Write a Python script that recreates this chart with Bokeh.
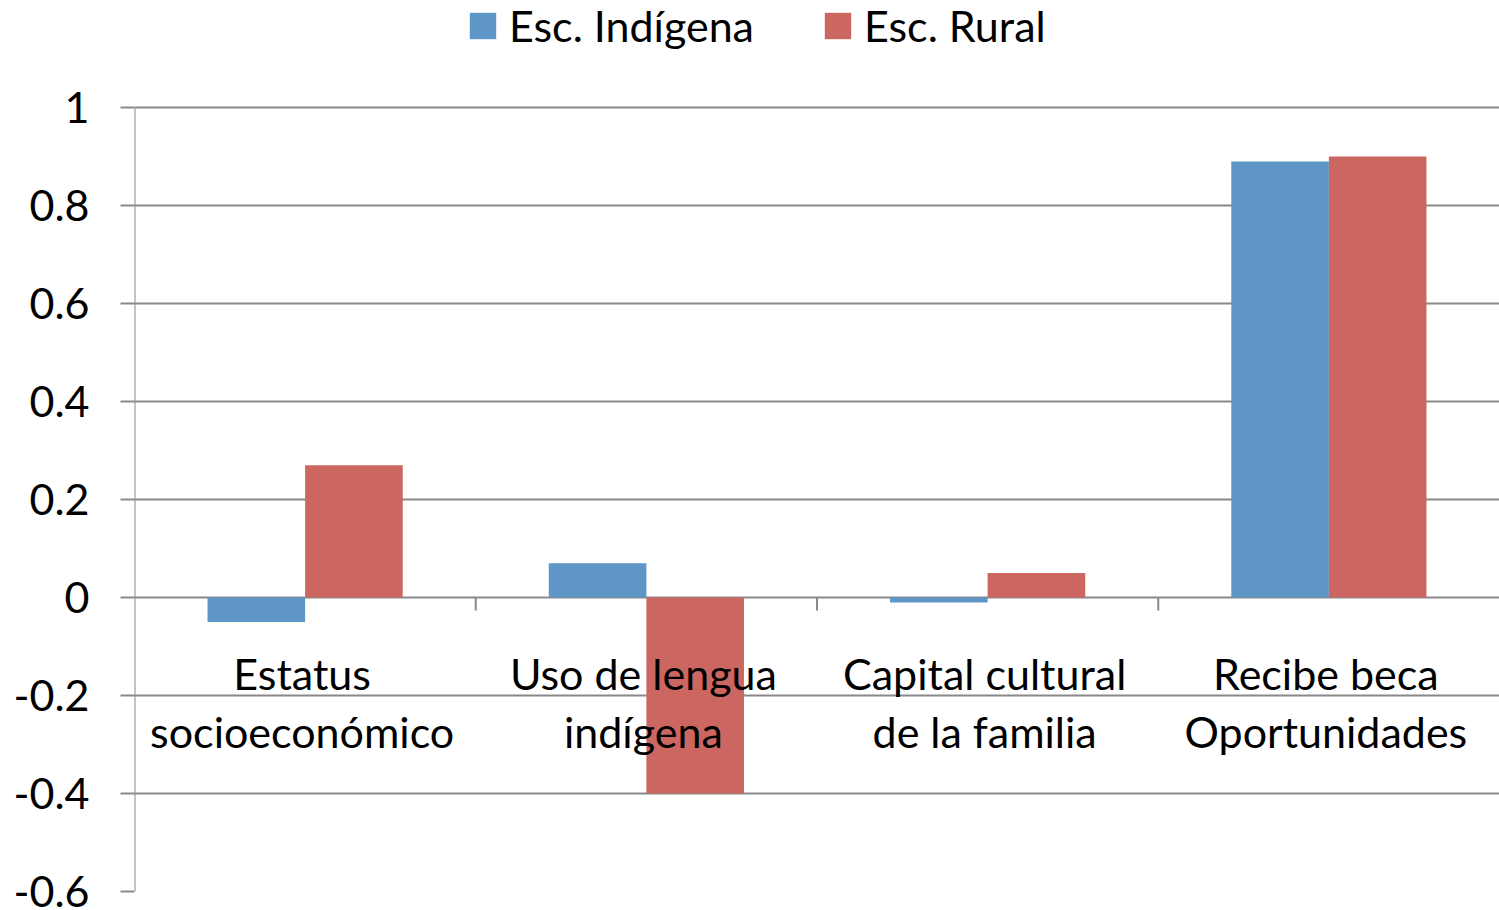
from bokeh.plotting import figure
from bokeh.models import Range1d, FixedTicker, Legend, LegendItem, ColumnDataSource
from bokeh.core.properties import value
from bokeh.transform import dodge
from bokeh.embed import file_html
from bokeh.resources import INLINE

categories = ["Estatus socioeconómico", "Uso de lengua indígena",
              "Capital cultural de la familia", "Recibe beca Oportunidades"]
label_line1 = ["Estatus", "Uso de lengua", "Capital cultural", "Recibe beca"]
label_line2 = ["socioeconómico", "indígena", "de la familia", "Oportunidades"]
indigena = [-0.05, 0.07, -0.01, 0.89]
rural = [0.27, -0.40, 0.05, 0.90]
y_ticks = [-0.6, -0.4, -0.2, 0, 0.2, 0.4, 0.6, 0.8, 1]
y_tick_labels = {-0.6: "-0.6", -0.4: "-0.4", -0.2: "-0.2", 0: "0", 0.2: "0.2",
                 0.4: "0.4", 0.6: "0.6", 0.8: "0.8", 1: "1"}
series_names = ["Esc. Indígena", "Esc. Rural"]

BLUE = "#5F96C8"
RED = "#CC6660"
GRAY = "#898989"
FONT = "Lato"
FS = "43px"

n = len(categories)
centers = [i + 0.5 for i in range(n)]
bw = 0.286

y_min, y_max = y_ticks[0], y_ticks[-1]
# extra headroom above the top tick so the legend fits inside the frame
y_top = y_max + 107 / 490

p = figure(frame_width=1365, frame_height=891, output_backend="svg",
           toolbar_location=None, x_range=Range1d(0, n),
           y_range=Range1d(y_min, y_top))
p.min_border_left = 134
p.min_border_right = 0
p.min_border_bottom = 19
p.min_border_top = 0
p.outline_line_color = None
p.background_fill_color = "white"
p.border_fill_color = "white"
p.title.visible = False

p.xaxis.visible = False
p.xgrid.visible = False

p.ygrid.ticker = FixedTicker(ticks=y_ticks)
p.ygrid.grid_line_color = GRAY
p.ygrid.grid_line_width = 2

ax = p.yaxis[0]
ax.ticker = FixedTicker(ticks=y_ticks)
ax.major_label_overrides = y_tick_labels
ax.axis_line_color = None
ax.major_tick_line_color = GRAY
ax.major_tick_line_width = 2
ax.major_tick_out = 14
ax.major_tick_in = 0
ax.minor_tick_line_color = None
ax.major_label_standoff = 31
ax.major_label_text_font = FONT
ax.major_label_text_font_size = FS
ax.major_label_text_color = "black"

# vertical axis line spanning the tick range only
p.segment(x0=[0], y0=[y_min], x1=[0], y1=[y_max], line_color=GRAY, line_width=2)

src = ColumnDataSource(dict(x=centers, ind=indigena, rur=rural,
                            l1=label_line1, l2=label_line2, zero=[0] * n))

r1 = p.vbar(x=dodge("x", -bw / 2), top="ind", bottom=0, width=bw, source=src,
            fill_color=BLUE, line_color=None)
r2 = p.vbar(x=dodge("x", bw / 2), top="rur", bottom=0, width=bw, source=src,
            fill_color=RED, line_color=None)

# category separator ticks below zero line
bounds = [float(i) for i in range(1, n)]
p.segment(x0=bounds, y0=[0] * len(bounds), x1=bounds, y1=[-0.0265] * len(bounds),
          line_color=GRAY, line_width=2)

p.text(x="x", y="zero", text="l1", source=src, text_align="center",
       text_baseline="middle", y_offset=76, x_offset=-3, text_font=value(FONT),
       text_font_size=FS, text_color="black")
p.text(x="x", y="zero", text="l2", source=src, text_align="center",
       text_baseline="middle", y_offset=134, x_offset=-3, text_font=value(FONT),
       text_font_size=FS, text_color="black")

legend = Legend(items=[LegendItem(label=series_names[0], renderers=[r1]),
                       LegendItem(label=series_names[1], renderers=[r2])],
                orientation="horizontal", location=(332, 840))
legend.label_text_font = FONT
legend.label_text_font_size = FS
legend.label_text_color = "black"
legend.glyph_width = 33
legend.glyph_height = 33
legend.label_standoff = 10
legend.spacing = 67
legend.border_line_color = None
legend.background_fill_alpha = 0
legend.margin = 0
legend.padding = 8
p.add_layout(legend)

open("out.html", "w").write(file_html(p, INLINE))
